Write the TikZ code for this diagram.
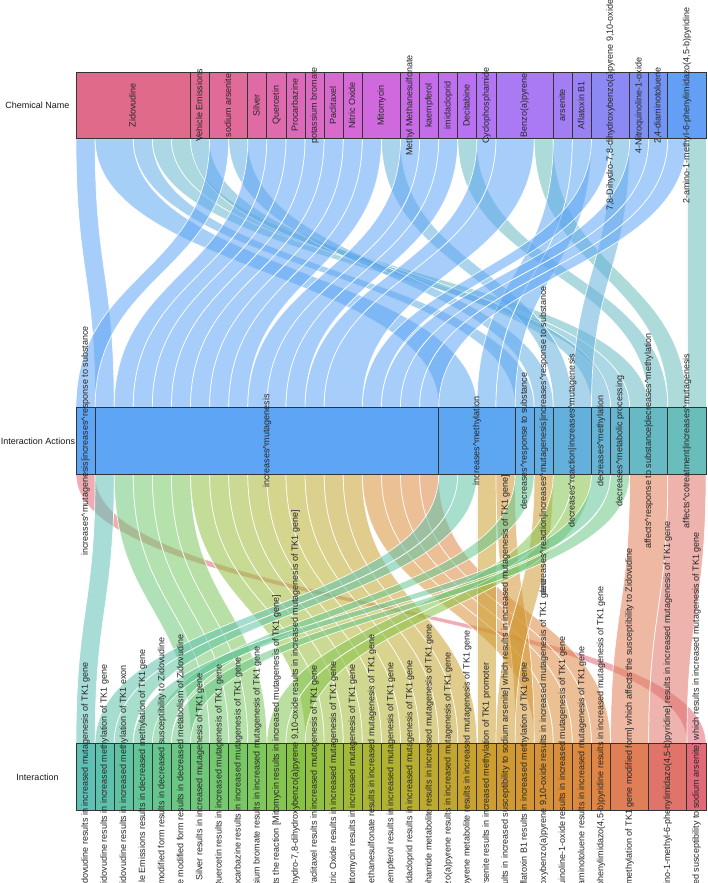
\documentclass[tikz,border=0pt]{standalone}
\usepackage{fontspec}
\setmainfont{Liberation Sans}
% chemical colours
\definecolor{ch0}{HTML}{E06A8A}\definecolor{ch1}{HTML}{E06A92}\definecolor{ch2}{HTML}{E06A9A}
\definecolor{ch3}{HTML}{E06AA4}\definecolor{ch4}{HTML}{DF6AAE}\definecolor{ch5}{HTML}{DD6AB9}
\definecolor{ch6}{HTML}{DB6AC4}\definecolor{ch7}{HTML}{D86ACE}\definecolor{ch8}{HTML}{D56AD7}
\definecolor{ch9}{HTML}{D069DE}\definecolor{ch10}{HTML}{C96BE6}\definecolor{ch11}{HTML}{C46DEA}
\definecolor{ch12}{HTML}{BE6FEE}\definecolor{ch13}{HTML}{B872F1}\definecolor{ch14}{HTML}{B275F3}
\definecolor{ch15}{HTML}{AA79F4}\definecolor{ch16}{HTML}{A27DF4}\definecolor{ch17}{HTML}{9882F4}
\definecolor{ch18}{HTML}{8C88F4}\definecolor{ch19}{HTML}{808EF4}\definecolor{ch20}{HTML}{7394F4}
\definecolor{ch21}{HTML}{639FF5}
% action colours
\definecolor{ac0}{HTML}{5EA5F5}\definecolor{ac1}{HTML}{5EA5F5}\definecolor{ac2}{HTML}{5DA7F2}
\definecolor{ac3}{HTML}{60ABE8}\definecolor{ac4}{HTML}{62AEE2}\definecolor{ac5}{HTML}{63B0DC}
\definecolor{ac6}{HTML}{65B3D5}\definecolor{ac7}{HTML}{67B6CE}\definecolor{ac8}{HTML}{67B9C3}
\definecolor{ac9}{HTML}{69BDBB}
% interaction colours
\definecolor{in0}{HTML}{5FC0B6}\definecolor{in1}{HTML}{5EC1AC}\definecolor{in2}{HTML}{5FC3A2}
\definecolor{in3}{HTML}{62C598}\definecolor{in4}{HTML}{66C68E}\definecolor{in5}{HTML}{6AC784}
\definecolor{in6}{HTML}{6FC87A}\definecolor{in7}{HTML}{74C870}\definecolor{in8}{HTML}{79C866}
\definecolor{in9}{HTML}{7EC75C}\definecolor{in10}{HTML}{84C552}\definecolor{in11}{HTML}{86C243}
\definecolor{in12}{HTML}{92C042}\definecolor{in13}{HTML}{9ABD3C}\definecolor{in14}{HTML}{A2BA38}
\definecolor{in15}{HTML}{AAB634}\definecolor{in16}{HTML}{B2B232}\definecolor{in17}{HTML}{B8AE30}
\definecolor{in18}{HTML}{BEAA2F}\definecolor{in19}{HTML}{C3A62F}\definecolor{in20}{HTML}{C8A22F}
\definecolor{in21}{HTML}{CC9E30}\definecolor{in22}{HTML}{D09A32}\definecolor{in23}{HTML}{D49634}
\definecolor{in24}{HTML}{D79237}\definecolor{in25}{HTML}{DA8E3B}\definecolor{in26}{HTML}{DD8A40}
\definecolor{in27}{HTML}{DF8646}\definecolor{in28}{HTML}{E07E58}\definecolor{in29}{HTML}{E0746A}
\definecolor{in30}{HTML}{E06A78}
\def\uu{19.0909}
\def\xo{76}
\newcommand\crt{\textasciicircum}
\newcommand\rbn[7]{%
 \path[ribbon, fill=#1] ({\xo+#2*\uu},#6) .. controls ({\xo+#2*\uu},{(#6+#7)/2}) and ({\xo+#4*\uu},{(#6+#7)/2}) .. ({\xo+#4*\uu},#7)
   -- ({\xo+#5*\uu},#7) .. controls ({\xo+#5*\uu},{(#6+#7)/2}) and ({\xo+#3*\uu},{(#6+#7)/2}) .. ({\xo+#3*\uu},#6) -- cycle;}
\newcommand\ribU[5]{\rbn{#1}{#2}{#3}{#4}{#5}{138.8}{407.5}}
\newcommand\ribL[5]{\rbn{#1}{#2}{#3}{#4}{#5}{474.3}{743.5}}
\newcommand\bx[5]{\node[catbox, fill=#2, minimum width={#4*\uu*1pt}] (#1) at ({\xo+(#3+#4/2)*\uu},#5) {};}
\newcommand\lb[3]{\node[lbl] (#1) at (#2.center) {#3};}
\newcommand\lbb[3]{\node[lbl, anchor=west] (#1) at (#2.center |- bot) {#3};}
\tikzset{
 catbox/.style={draw=black!80, line width=0.9pt, inner sep=0pt, outer sep=0pt, minimum height=66.8pt},
 lbl/.style={rotate=90, font=\fontsize{9}{10}\selectfont, text=black!85, inner sep=0pt, text height=6.6pt, text depth=1.9pt},
 dimlbl/.style={font=\fontsize{9}{10}\selectfont, text=black!90, inner sep=0pt},
 ribbon/.style={fill opacity=0.55, draw=white, draw opacity=0.9, line width=0.7pt}
}
\begin{document}
\begin{tikzpicture}[x=1pt,y=-1pt]
\useasboundingbox (0,0) rectangle (708,883);
\clip (0,0) rectangle (708,883);
\coordinate (bot) at (0,885);
% ---------- upper ribbons (chemical -> action)
\ribU{ac1}{0}{1}{1}{2}
\ribU{ac2}{1}{3}{19}{21}
\ribU{ac3}{3}{4}{23}{24}
\ribU{ac7}{4}{5}{28}{29}
\ribU{ac8}{5}{6}{29}{30}
\ribU{ac6}{6}{7}{27}{28}
\ribU{ac0}{7}{8}{0}{1}
\ribU{ac4}{8}{9}{24}{25}
\ribU{ac1}{9}{10}{2}{3}
\ribU{ac1}{10}{11}{3}{4}
\ribU{ac1}{11}{12}{4}{5}
\ribU{ac1}{12}{13}{5}{6}
\ribU{ac1}{13}{14}{6}{7}
\ribU{ac1}{14}{15}{7}{8}
\ribU{ac1}{15}{16}{8}{9}
\ribU{ac5}{16}{17}{25}{26}
\ribU{ac1}{17}{18}{9}{10}
\ribU{ac1}{18}{19}{10}{11}
\ribU{ac1}{19}{20}{11}{12}
\ribU{ac8}{20}{21}{30}{31}
\ribU{ac1}{21}{22}{12}{13}
\ribU{ac1}{22}{24}{13}{15}
\ribU{ac9}{24}{25}{31}{32}
\ribU{ac2}{25}{26}{21}{22}
\ribU{ac2}{26}{27}{22}{23}
\ribU{ac1}{27}{28}{15}{16}
\ribU{ac5}{28}{29}{26}{27}
\ribU{ac1}{29}{30}{16}{17}
\ribU{ac1}{30}{31}{17}{18}
\ribU{ac1}{31}{32}{18}{19}
\ribU{ac9}{32}{33}{32}{33}
% ---------- lower ribbons (action -> interaction)
\ribL{in30}{0}{1}{32}{33}
\ribL{in0}{1}{2}{0}{1}
\ribL{in6}{2}{3}{6}{7}
\ribL{in7}{3}{4}{7}{8}
\ribL{in8}{4}{5}{8}{9}
\ribL{in9}{5}{6}{9}{10}
\ribL{in12}{6}{7}{12}{13}
\ribL{in13}{7}{8}{13}{14}
\ribL{in14}{8}{9}{14}{15}
\ribL{in15}{9}{10}{15}{16}
\ribL{in16}{10}{11}{16}{17}
\ribL{in17}{11}{12}{17}{18}
\ribL{in18}{12}{13}{18}{19}
\ribL{in19}{13}{14}{19}{20}
\ribL{in20}{14}{15}{20}{21}
\ribL{in24}{15}{16}{24}{25}
\ribL{in25}{16}{17}{25}{26}
\ribL{in26}{17}{18}{26}{27}
\ribL{in27}{18}{19}{27}{28}
\ribL{in1}{19}{20}{1}{2}
\ribL{in2}{20}{21}{2}{3}
\ribL{in21}{21}{22}{21}{22}
\ribL{in23}{22}{23}{23}{24}
\ribL{in4}{23}{24}{4}{5}
\ribL{in22}{24}{25}{22}{23}
\ribL{in10}{25}{26}{10}{11}
\ribL{in11}{26}{27}{11}{12}
\ribL{in3}{27}{28}{3}{4}
\ribL{in5}{28}{29}{5}{6}
\ribL{in28}{29}{31}{28}{30}
\ribL{in29}{31}{33}{30}{32}
% ---------- boxes: chemical names
\bx{c0}{ch0}{0}{6}{105.4}
\bx{c1}{ch1}{6}{1}{105.4}
\bx{c2}{ch2}{7}{2}{105.4}
\bx{c3}{ch3}{9}{1}{105.4}
\bx{c4}{ch4}{10}{1}{105.4}
\bx{c5}{ch5}{11}{1}{105.4}
\bx{c6}{ch6}{12}{1}{105.4}
\bx{c7}{ch7}{13}{1}{105.4}
\bx{c8}{ch8}{14}{1}{105.4}
\bx{c9}{ch9}{15}{2}{105.4}
\bx{c10}{ch10}{17}{1}{105.4}
\bx{c11}{ch11}{18}{1}{105.4}
\bx{c12}{ch12}{19}{1}{105.4}
\bx{c13}{ch13}{20}{1}{105.4}
\bx{c14}{ch14}{21}{1}{105.4}
\bx{c15}{ch15}{22}{3}{105.4}
\bx{c16}{ch16}{25}{1}{105.4}
\bx{c17}{ch17}{26}{1}{105.4}
\bx{c18}{ch18}{27}{2}{105.4}
\bx{c19}{ch19}{29}{1}{105.4}
\bx{c20}{ch20}{30}{1}{105.4}
\bx{c21}{ch21}{31}{2}{105.4}
% ---------- boxes: actions
\bx{a0}{ac0}{0}{1}{440.9}
\bx{a1}{ac1}{1}{18}{440.9}
\bx{a2}{ac2}{19}{4}{440.9}
\bx{a3}{ac3}{23}{1}{440.9}
\bx{a4}{ac4}{24}{1}{440.9}
\bx{a5}{ac5}{25}{2}{440.9}
\bx{a6}{ac6}{27}{1}{440.9}
\bx{a7}{ac7}{28}{1}{440.9}
\bx{a8}{ac8}{29}{2}{440.9}
\bx{a9}{ac9}{31}{2}{440.9}
% ---------- boxes: interactions
\bx{i0}{in0}{0}{1}{776.9}\bx{i1}{in1}{1}{1}{776.9}\bx{i2}{in2}{2}{1}{776.9}
\bx{i3}{in3}{3}{1}{776.9}\bx{i4}{in4}{4}{1}{776.9}\bx{i5}{in5}{5}{1}{776.9}
\bx{i6}{in6}{6}{1}{776.9}\bx{i7}{in7}{7}{1}{776.9}\bx{i8}{in8}{8}{1}{776.9}
\bx{i9}{in9}{9}{1}{776.9}\bx{i10}{in10}{10}{1}{776.9}\bx{i11}{in11}{11}{1}{776.9}
\bx{i12}{in12}{12}{1}{776.9}\bx{i13}{in13}{13}{1}{776.9}\bx{i14}{in14}{14}{1}{776.9}
\bx{i15}{in15}{15}{1}{776.9}\bx{i16}{in16}{16}{1}{776.9}\bx{i17}{in17}{17}{1}{776.9}
\bx{i18}{in18}{18}{1}{776.9}\bx{i19}{in19}{19}{1}{776.9}\bx{i20}{in20}{20}{1}{776.9}
\bx{i21}{in21}{21}{1}{776.9}\bx{i22}{in22}{22}{1}{776.9}\bx{i23}{in23}{23}{1}{776.9}
\bx{i24}{in24}{24}{1}{776.9}\bx{i25}{in25}{25}{1}{776.9}\bx{i26}{in26}{26}{1}{776.9}
\bx{i27}{in27}{27}{1}{776.9}\bx{i28}{in28}{28}{2}{776.9}\bx{i29}{in29}{30}{2}{776.9}
\bx{i30}{in30}{32}{1}{776.9}
% ---------- dimension titles
\node[dimlbl] (dimC) at (37.5,105.4) {Chemical Name};
\node[dimlbl] (dimA) at (38,440.9) {Interaction Actions};
\node[dimlbl] (dimI) at (37.5,776.9) {Interaction};
% ---------- chemical labels
\lb{lc0}{c0}{Zidovudine}
\lb{lc1}{c1}{Vehicle Emissions}
\lb{lc2}{c2}{sodium arsenite}
\lb{lc3}{c3}{Silver}
\lb{lc4}{c4}{Quercetin}
\lb{lc5}{c5}{Procarbazine}
\lb{lc6}{c6}{potassium bromate}
\lb{lc7}{c7}{Paclitaxel}
\lb{lc8}{c8}{Nitric Oxide}
\lb{lc9}{c9}{Mitomycin}
\lb{lc10}{c10}{Methyl Methanesulfonate}
\lb{lc11}{c11}{kaempferol}
\lb{lc12}{c12}{imidacloprid}
\lb{lc13}{c13}{Decitabine}
\lb{lc14}{c14}{Cyclophosphamide}
\lb{lc15}{c15}{Benzo(a)pyrene}
\lb{lc16}{c16}{arsenite}
\lb{lc17}{c17}{Aflatoxin B1}
\lb{lc18}{c18}{7,8-Dihydro-7,8-dihydroxybenzo(a)pyrene 9,10-oxide}
\lb{lc19}{c19}{4-Nitroquinoline-1-oxide}
\lb{lc20}{c20}{2,4-diaminotoluene}
\lb{lc21}{c21}{2-amino-1-methyl-6-phenylimidazo(4,5-b)pyridine}
% ---------- action labels
\lb{la0}{a0}{increases\crt mutagenesis|increases\crt response to substance}
\lb{la1}{a1}{increases\crt mutagenesis}
\lb{la2}{a2}{increases\crt methylation}
\lb{la3}{a3}{decreases\crt response to substance}
\lb{la4}{a4}{decreases\crt reaction|increases\crt mutagenesis|increases\crt response to substance}
\lb{la5}{a5}{decreases\crt reaction|increases\crt mutagenesis}
\lb{la6}{a6}{decreases\crt methylation}
\lb{la7}{a7}{decreases\crt metabolic processing}
\lb{la8}{a8}{affects\crt response to substance|decreases\crt methylation}
\lb{la9}{a9}{affects\crt cotreatment|increases\crt mutagenesis}
% ---------- interaction labels
\lb{li0}{i0}{Zidovudine results in increased mutagenesis of TK1 gene}
\lb{li1}{i1}{Zidovudine results in increased methylation of TK1 gene}
\lb{li2}{i2}{Zidovudine results in increased methylation of TK1 exon}
\lb{li3}{i3}{Vehicle Emissions results in decreased methylation of TK1 gene}
\lbb{li4}{i4}{modified form results in decreased susceptibility to Zidovudine}
\lbb{li5}{i5}{e modified form results in decreased metabolism of Zidovudine}
\lb{li6}{i6}{Silver results in increased mutagenesis of TK1 gene}
\lb{li7}{i7}{Quercetin results in increased mutagenesis of TK1 gene}
\lb{li8}{i8}{Procarbazine results in increased mutagenesis of TK1 gene}
\lb{li9}{i9}{potassium bromate results in increased mutagenesis of TK1 gene}
\lbb{li10}{i10}{ts the reaction [Mitomycin results in increased mutagenesis of TK1 gene]}
\lbb{li11}{i11}{hydro-7,8-dihydroxybenzo(a)pyrene 9,10-oxide results in increased mutagenesis of TK1 gene]}
\lb{li12}{i12}{Paclitaxel results in increased mutagenesis of TK1 gene}
\lb{li13}{i13}{Nitric Oxide results in increased mutagenesis of TK1 gene}
\lb{li14}{i14}{Mitomycin results in increased mutagenesis of TK1 gene}
\lb{li15}{i15}{Methyl Methanesulfonate results in increased mutagenesis of TK1 gene}
\lb{li16}{i16}{kaempferol results in increased mutagenesis of TK1 gene}
\lb{li17}{i17}{imidacloprid results in increased mutagenesis of TK1 gene}
\lb{li18}{i18}{Cyclophosphamide metabolite results in increased mutagenesis of TK1 gene}
\lb{li19}{i19}{Benzo(a)pyrene results in increased mutagenesis of TK1 gene}
\lb{li20}{i20}{Benzo(a)pyrene metabolite results in increased mutagenesis of TK1 gene}
\lb{li21}{i21}{arsenite results in increased methylation of TK1 promoter}
\lbb{li22}{i22}{ults in increased susceptibility to sodium arsenite] which results in increased mutagenesis of TK1 gene]}
\lb{li23}{i23}{Aflatoxin B1 results in increased methylation of TK1 gene}
\lb{li24}{i24}{7,8-Dihydro-7,8-dihydroxybenzo(a)pyrene 9,10-oxide results in increased mutagenesis of TK1 gene}
\lb{li25}{i25}{4-Nitroquinoline-1-oxide results in increased mutagenesis of TK1 gene}
\lb{li26}{i26}{2,4-diaminotoluene results in increased mutagenesis of TK1 gene}
\lb{li27}{i27}{2-amino-1-methyl-6-phenylimidazo(4,5-b)pyridine results in increased mutagenesis of TK1 gene}
\lbb{li28}{i28}{methylation of TK1 gene modified form] which affects the susceptibility to Zidovudine}
\lbb{li29}{i29}{ino-1-methyl-6-phenylimidazo(4,5-b)pyridine] results in increased mutagenesis of TK1 gene}
\lbb{li30}{i30}{ed susceptibility to sodium arsenite] which results in increased mutagenesis of TK1 gene}
\end{tikzpicture}
\end{document}
